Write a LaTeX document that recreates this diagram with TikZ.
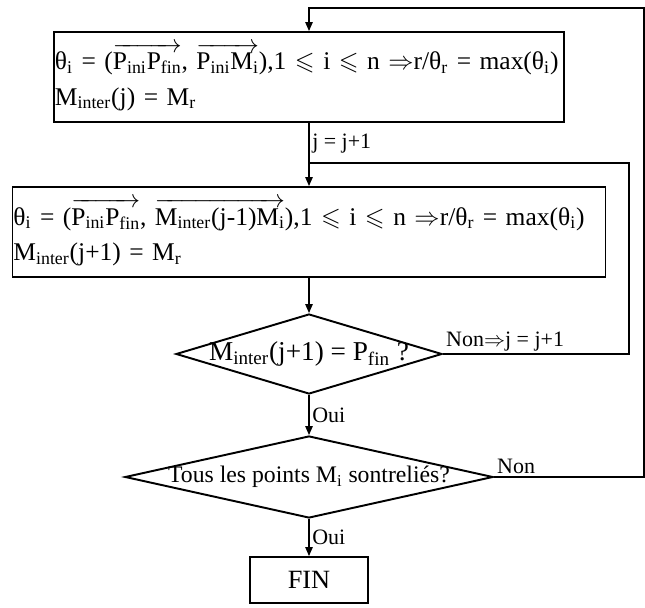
\documentclass[tikz,border=0pt]{standalone}
\usepackage{fontspec}
\usepackage{amsmath,amssymb}
\setmainfont{Liberation Serif}
\usetikzlibrary{shapes.geometric,arrows.meta,positioning}
\newcommand{\sbs}[1]{\textsubscript{#1}}
\newcommand{\vecr}[1]{$\overrightarrow{\text{#1}\vphantom{Mj}}$}

\begin{document}
\begin{tikzpicture}[
  bx/.style={rectangle, draw, line width=1.1pt, inner xsep=0.2mm, text width=#1, align=left, minimum height=1.8cm, font=\fontsize{14.5}{20}\selectfont},
  dm/.style={diamond, draw, line width=1.1pt, inner sep=0pt},
  fn/.style={rectangle, draw, line width=1.1pt, minimum width=2.36cm, minimum height=0.92cm, font=\fontsize{15}{18}\selectfont},
  arr/.style={-{Triangle[length=1.8mm,width=1.5mm]}, line width=0.7pt},
  ln/.style={line width=0.7pt},
  lb/.style={font=\fontsize{12.5}{15}\selectfont, inner sep=1.5pt}
]
  \useasboundingbox (0,0) rectangle (12.9,-12.16);
  \node[bx=10.16cm] (b1)  at (6.18,-1.54)  {θ\sbs{i} = (\vecr{P\sbs{ini}P\sbs{fin}}, \vecr{P\sbs{ini}M\sbs{i}}),1 $\leqslant$ i $\leqslant$ n $\Rightarrow$r/θ\sbs{r} = max(θ\sbs{i})\\ M\sbs{inter}(j) = M\sbs{r}};
  \node[bx=11.82cm] (b2)  at (6.18,-4.64)  {θ\sbs{i} = (\vecr{P\sbs{ini}P\sbs{fin}}, \vecr{M\sbs{inter}(j-1)M\sbs{i}}),1 $\leqslant$ i $\leqslant$ n $\Rightarrow$r/θ\sbs{r} = max(θ\sbs{i})\\ M\sbs{inter}(j+1) = M\sbs{r}};
  \node[dm, minimum width=5.32cm, minimum height=1.6cm,
        label={[font=\fontsize{15.5}{18}\selectfont]center:M\sbs{inter}(j+1) = P\sbs{fin} ?}] (d1) at (6.18,-7.08) {};
  \node[dm, minimum width=7.36cm, minimum height=1.64cm,
        label={[font=\fontsize{13.5}{16}\selectfont]center:Tous les points M\sbs{i} sontreliés?}] (d2) at (6.18,-9.54) {};
  \node[fn]         (fin) at (6.18,-11.6)  {FIN};
  \coordinate (ro) at (12.88,-0.16);
  \coordinate (lp) at (12.58,-3.26);
  \coordinate (jn) at (6.18,-3.26);
  % main flow
  \draw[arr] (b1) -- node[lb, pos=0.32, right]{j = j+1} (b2);
  \draw[arr] (b2) -- (d1);
  \draw[arr] (d1) -- node[lb, right]{Oui} (d2);
  \draw[arr] (d2) -- node[lb, right]{Oui} (fin);
  % loops back
  \draw[ln] (d1.east) node[lb, above right]{Non$\Rightarrow$j = j+1} -| (lp) -- (jn);
  \draw[arr] (d2.east) node[lb, above right]{Non} -| (ro) -| (b1.north);
\end{tikzpicture}
\end{document}
